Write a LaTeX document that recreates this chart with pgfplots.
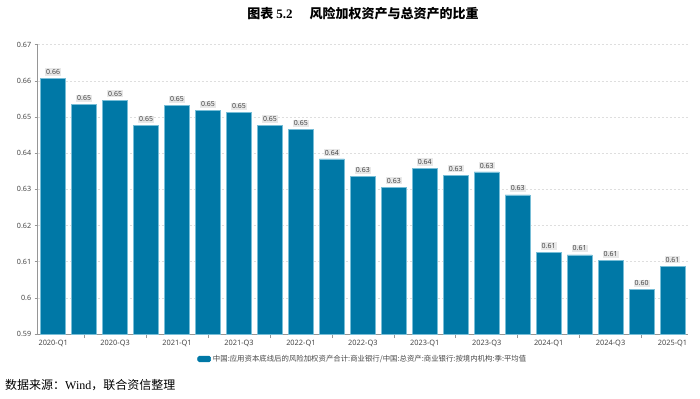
\documentclass[border=0pt]{standalone}
\usepackage{pgfplots}
\usepackage{pgfplotstable}
\pgfplotsset{compat=1.18}
\usepackage{fontspec}
\setmainfont{Noto Sans}
\newfontfamily\cjk{Noto Sans CJK SC}
\newfontfamily\song{Noto Sans CJK SC}
\newfontfamily\tnr{Liberation Serif}
\definecolor{barc}{RGB}{0,120,166}
\definecolor{barl}{RGB}{120,190,215}
\definecolor{txt}{RGB}{70,70,70}
\definecolor{axc}{RGB}{150,150,150}
\definecolor{gridc}{RGB}{222,222,222}
\definecolor{lblbg}{RGB}{232,232,232}

\pgfplotstableread{
x y
0 0.6607
1 0.6534
2 0.6547
3 0.6476
4 0.6532
5 0.6518
6 0.6512
7 0.6477
8 0.6465
9 0.6384
10 0.6335
11 0.6306
12 0.6358
13 0.6339
14 0.6348
15 0.6285
16 0.6126
17 0.6119
18 0.6103
19 0.6023
20 0.6088
}\ratio

\begin{document}
\begin{tikzpicture}[x=1bp,y=1bp]
\begin{axis}[
  at={(37.7bp,64bp)}, anchor=south west,
  scale only axis, width=650.3bp, height=289.3bp,
  ybar, bar width=25bp,
  xmin=-0.5, xmax=20.5, ymin=0.59, ymax=0.67,
  xtick={0,2,...,20},
  xticklabels={2020-Q1,2020-Q3,2021-Q1,2021-Q3,2022-Q1,2022-Q3,2023-Q1,2023-Q3,2024-Q1,2024-Q3,2025-Q1},
  major x tick style={draw=none},
  extra x ticks={1,3,...,19}, extra x tick labels={},
  extra x tick style={major x tick style={draw=axc, line width=0.6bp}, major tick length=4bp, grid=none},
  tick align=outside,
  ytick={0.59,0.60,0.61,0.62,0.63,0.64,0.65,0.66,0.67},
  yticklabels={0.59,0.6,0.61,0.62,0.63,0.64,0.65,0.66,0.67},
  major y tick style={draw=axc, line width=0.6bp},
  major tick length=3bp,
  ymajorgrids,
  grid style={gridc, dash pattern=on 2bp off 2bp, line width=0.5bp},
  axis x line*=bottom, axis y line*=left,
  axis line style={axc, line width=0.7bp},
  xticklabel style={font=\fontsize{7.4bp}{8bp}\selectfont, text=txt},
  yticklabel style={font=\fontsize{7.2bp}{8bp}\selectfont, text=txt},
  nodes near coords={\pgfmathprintnumber[fixed,zerofill,precision=2,assume math mode=true]{\pgfplotspointmeta}},
  every node near coord/.append style={font=\fontsize{7bp}{8bp}\selectfont, text=txt, fill=lblbg, inner sep=1bp, yshift=2.5bp},
  legend style={at={(0.5,-0.0864)}, anchor=center, draw=none, fill=none,
    font=\cjk\fontsize{7.4bp}{8bp}\selectfont, text=txt},
  legend cell align=left,
]
\addplot[fill=barc, draw=barl, line width=0.5bp,
  legend image code/.code={\fill[barc, rounded corners=1.5bp] (0bp,-2.8bp) rectangle (13bp,2.8bp);}]
  table[x=x, y=y] {\ratio};
\addlegendentry{中国:应用资本底线后的风险加权资产合计:商业银行/中国:总资产:商业银行:按境内机构:季:平均值}
\end{axis}
\node[font=\song\bfseries\fontsize{13bp}{15bp}\selectfont, text=black] at (363,384)
  {图表 {\tnr\bfseries 5.2}\hspace{1.3em}风险加权资产与总资产的比重};
\node[anchor=west, inner sep=0pt, font=\song\fontsize{12bp}{14bp}\selectfont, text=black] at (5,13)
  {数据来源：{\tnr Wind}，联合资信整理};
\pgfresetboundingbox
\useasboundingbox (0,0) rectangle (700,398);
\end{tikzpicture}
\end{document}
